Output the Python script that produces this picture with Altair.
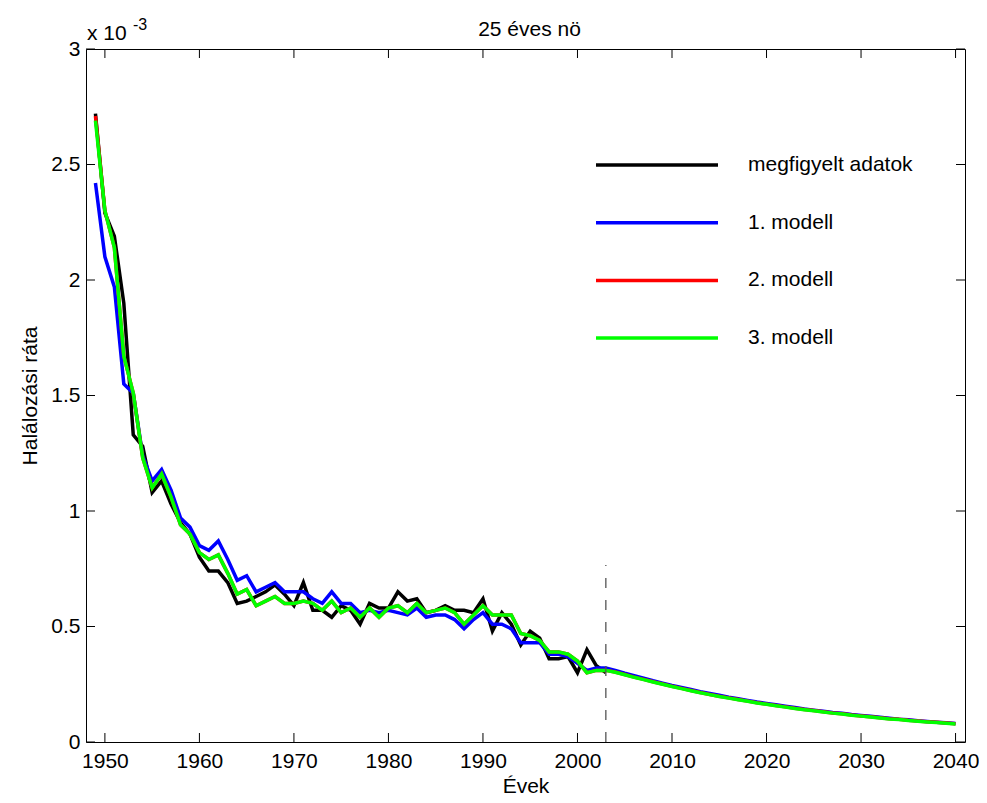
import altair as alt
import pandas as pd

# ---------------- data (rates in units of 1e-3) ----------------
hist_years = list(range(1949, 2004))
fc_years = list(range(2004, 2041))

observed = [2.72, 2.29, 2.19, 1.90, 1.33, 1.28, 1.08, 1.13, 1.03, 0.95,
            0.90, 0.80, 0.74, 0.74, 0.69, 0.60, 0.61, 0.63, 0.65, 0.68,
            0.64, 0.59, 0.69, 0.57, 0.57, 0.54, 0.59, 0.57, 0.51, 0.60,
            0.58, 0.58, 0.65, 0.61, 0.62, 0.56, 0.57, 0.59, 0.57, 0.57,
            0.56, 0.62, 0.48, 0.56, 0.51, 0.42, 0.48, 0.45, 0.36, 0.36,
            0.37, 0.30, 0.40, 0.33, 0.30]

model1_hist = [2.42, 2.10, 1.97, 1.55, 1.51, 1.24, 1.13, 1.18, 1.09, 0.97,
               0.93, 0.85, 0.83, 0.87, 0.79, 0.70, 0.72, 0.65, 0.67, 0.69,
               0.65, 0.65, 0.65, 0.62, 0.60, 0.65, 0.60, 0.60, 0.56, 0.57,
               0.56, 0.57, 0.56, 0.55, 0.58, 0.54, 0.55, 0.55, 0.53, 0.49,
               0.53, 0.56, 0.51, 0.51, 0.49, 0.43, 0.43, 0.43, 0.38, 0.38,
               0.37, 0.34, 0.31, 0.32, 0.32]
model1_fc = [0.310, 0.298, 0.287, 0.276, 0.265, 0.255, 0.245, 0.236, 0.227, 0.218,
             0.210, 0.202, 0.194, 0.187, 0.180, 0.173, 0.167, 0.161, 0.155, 0.149,
             0.143, 0.138, 0.133, 0.128, 0.124, 0.119, 0.115, 0.111, 0.107, 0.103,
             0.099, 0.096, 0.092, 0.089, 0.086, 0.083, 0.080]

model2_hist = [2.71, 2.30, 2.14, 1.67, 1.51, 1.23, 1.10, 1.16, 1.06, 0.94,
               0.90, 0.82, 0.79, 0.81, 0.73, 0.64, 0.66, 0.59, 0.61, 0.63,
               0.60, 0.60, 0.61, 0.60, 0.57, 0.61, 0.56, 0.58, 0.54, 0.58,
               0.54, 0.58, 0.59, 0.56, 0.60, 0.56, 0.57, 0.58, 0.56, 0.51,
               0.55, 0.59, 0.55, 0.55, 0.55, 0.47, 0.46, 0.44, 0.39, 0.39,
               0.38, 0.35, 0.30, 0.31, 0.31]
model2_fc = [0.303, 0.292, 0.281, 0.271, 0.261, 0.251, 0.241, 0.232, 0.223, 0.214,
             0.206, 0.198, 0.191, 0.184, 0.177, 0.170, 0.164, 0.158, 0.152, 0.146,
             0.141, 0.136, 0.131, 0.126, 0.122, 0.117, 0.113, 0.109, 0.105, 0.101,
             0.098, 0.094, 0.091, 0.088, 0.085, 0.082, 0.079]

model3_hist = [2.69, 2.30, 2.14, 1.67, 1.51, 1.23, 1.10, 1.16, 1.06, 0.94,
               0.90, 0.82, 0.79, 0.81, 0.73, 0.64, 0.66, 0.59, 0.61, 0.63,
               0.60, 0.60, 0.61, 0.60, 0.57, 0.61, 0.56, 0.58, 0.54, 0.58,
               0.54, 0.58, 0.59, 0.56, 0.60, 0.56, 0.57, 0.58, 0.56, 0.51,
               0.55, 0.59, 0.55, 0.55, 0.55, 0.47, 0.46, 0.44, 0.39, 0.39,
               0.38, 0.35, 0.30, 0.31, 0.31]
model3_fc = [0.302, 0.291, 0.280, 0.270, 0.260, 0.250, 0.240, 0.231, 0.222, 0.213,
             0.205, 0.197, 0.190, 0.183, 0.176, 0.169, 0.163, 0.157, 0.151, 0.145,
             0.140, 0.135, 0.130, 0.125, 0.121, 0.116, 0.112, 0.108, 0.104, 0.100,
             0.097, 0.093, 0.090, 0.087, 0.084, 0.081, 0.078]

legend_labels = ["megfigyelt adatok", "1. modell", "2. modell", "3. modell"]
legend_colors = ["#000000", "#0000ff", "#ff0000", "#00ff00"]

title_text = "25 éves nö"

forecast_start = [2003]
forecast_marker_top = [0.766]

x_ticks = [1950, 1960, 1970, 1980, 1990, 2000, 2010, 2020, 2030, 2040]
y_ticks = [0, 0.5, 1, 1.5, 2, 2.5, 3]

# ---------------- chart ----------------
W, H = 879, 693
FONT = "Liberation Sans"
FS = 21
LW = 3.5

xscale = alt.Scale(domain=[1948, 2041], nice=False, zero=False)
yscale = alt.Scale(domain=[0, 3], nice=False)

xaxis = alt.Axis(values=x_ticks, format="d", ticks=False, domain=False, grid=False,
                 labelFontSize=FS, labelPadding=8, labelColor="black",
                 title="Évek", titleFontSize=FS, titleFontWeight="normal",
                 titlePadding=4, titleColor="black", labelFlush=False)
yaxis = alt.Axis(values=y_ticks, format="~g", ticks=False, domain=False, grid=False,
                 labelFontSize=FS, labelPadding=6, labelColor="black",
                 title="Halálozási ráta", titleFontSize=FS, titleFontWeight="normal",
                 titlePadding=10, titleColor="black", labelFlush=False)


def series_df(years, vals):
    return pd.DataFrame({"year": years, "v": vals})


def line(df, color):
    return alt.Chart(df).mark_line(color=color, strokeWidth=LW, clip=True).encode(
        x=alt.X("year:Q", scale=xscale, axis=xaxis),
        y=alt.Y("v:Q", scale=yscale, axis=yaxis),
    )


layers = [
    line(series_df(hist_years, observed), legend_colors[0]),
    line(series_df(hist_years + fc_years, model1_hist + model1_fc), legend_colors[1]),
    line(series_df(hist_years + fc_years, model2_hist + model2_fc), legend_colors[2]),
    line(series_df(hist_years + fc_years, model3_hist + model3_fc), legend_colors[3]),
]

# dashed vertical marker at the end of observations
marker_df = pd.DataFrame({"year": forecast_start, "lo": [0], "hi": forecast_marker_top})
layers.append(
    alt.Chart(marker_df).mark_rule(color="#555555", strokeWidth=1.3, strokeDash=[10, 12]).encode(
        x=alt.X("year:Q", scale=xscale, axis=xaxis),
        y=alt.Y("lo:Q", scale=yscale, axis=yaxis),
        y2="hi:Q",
    )
)

# inward ticks on all four sides (MATLAB box style)
xt = pd.DataFrame({"t": x_ticks})
yt = pd.DataFrame({"t": y_ticks})
TL = 9
for y0, y1 in [(H, H - TL), (0, TL)]:
    layers.append(
        alt.Chart(xt).mark_rule(color="black", strokeWidth=1).encode(
            x=alt.X("t:Q", scale=xscale, axis=xaxis),
            y=alt.value(y0), y2=alt.value(y1),
        )
    )
for x0, x1 in [(0, TL), (W, W - TL)]:
    layers.append(
        alt.Chart(yt).mark_rule(color="black", strokeWidth=1).encode(
            y=alt.Y("t:Q", scale=yscale, axis=yaxis),
            x=alt.value(x0), x2=alt.value(x1),
        )
    )

# legend (no box)
one = pd.DataFrame({"a": [0]})
LEG_Y0, LEG_DY = 116, 57.7
for i, (lab, col) in enumerate(zip(legend_labels, legend_colors)):
    yy = LEG_Y0 + i * LEG_DY
    layers.append(
        alt.Chart(one).mark_rule(color=col, strokeWidth=LW).encode(
            x=alt.value(510), x2=alt.value(632), y=alt.value(yy)
        )
    )
    layers.append(
        alt.Chart(one).mark_text(align="left", baseline="middle", fontSize=FS,
                                 font=FONT, color="black").encode(
            x=alt.value(662), y=alt.value(yy), text=alt.value(lab)
        )
    )

# title and exponent annotation
layers.append(
    alt.Chart(one).mark_text(align="center", baseline="alphabetic", fontSize=FS,
                             font=FONT, color="black").encode(
        x=alt.value(W / 2 + 4), y=alt.value(-13), text=alt.value(title_text)
    )
)
layers.append(
    alt.Chart(one).mark_text(align="left", baseline="alphabetic", fontSize=FS,
                             font=FONT, color="black").encode(
        x=alt.value(1), y=alt.value(-9), text=alt.value("x 10")
    )
)
layers.append(
    alt.Chart(one).mark_text(align="left", baseline="alphabetic", fontSize=16,
                             font=FONT, color="black").encode(
        x=alt.value(47), y=alt.value(-19), text=alt.value("-3")
    )
)

chart = alt.layer(*layers).properties(
    width=W, height=H,
    autosize=alt.AutoSizeParams(type="none"),
    padding={"left": 78, "top": 41, "right": 14, "bottom": 53},
).configure(font=FONT).configure_view(stroke="black", strokeWidth=1)

chart.save("out.html", embed_options={"renderer": "svg", "actions": False})
